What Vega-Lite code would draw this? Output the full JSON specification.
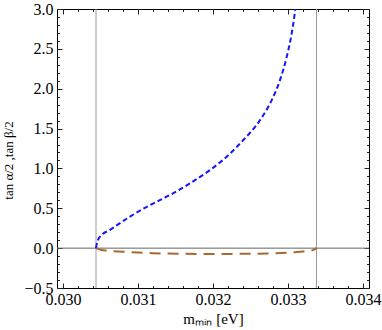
{
  "$schema": "https://vega.github.io/schema/vega-lite/v6.json",
  "autosize": "none",
  "width": 312,
  "height": 279,
  "padding": {"left": 57, "top": 9, "right": 13, "bottom": 42},
  "background": "white",
  "config": {
    "view": {"stroke": "black", "strokeWidth": 1},
    "font": "Liberation Serif",
    "axis": {
      "domain": false,
      "grid": false,
      "tickColor": "#222",
      "tickWidth": 1,
      "labelFont": "Liberation Serif",
      "labelFontSize": 16,
      "labelColor": "black",
      "titleFont": "Liberation Serif",
      "titleFontWeight": "normal",
      "titleColor": "black",
      "labelOverlap": false,
      "labelFlush": false
    }
  },
  "datasets": {
    "blue": [
      {"m": 0.03044, "t": 0},
      {"m": 0.03045, "t": 0.05},
      {"m": 0.03047, "t": 0.11},
      {"m": 0.0305, "t": 0.15},
      {"m": 0.030627, "t": 0.23},
      {"m": 0.030893, "t": 0.395},
      {"m": 0.03116, "t": 0.54},
      {"m": 0.031427, "t": 0.667},
      {"m": 0.031693, "t": 0.813},
      {"m": 0.03196, "t": 0.98},
      {"m": 0.032183, "t": 1.147},
      {"m": 0.032404, "t": 1.356},
      {"m": 0.032627, "t": 1.606},
      {"m": 0.032783, "t": 1.857},
      {"m": 0.032893, "t": 2.107},
      {"m": 0.032983, "t": 2.4},
      {"m": 0.033049, "t": 2.693},
      {"m": 0.033093, "t": 2.964},
      {"m": 0.03313, "t": 3.25}
    ],
    "brown": [
      {"m": 0.03044, "t": 0},
      {"m": 0.0305, "t": -0.02},
      {"m": 0.0306, "t": -0.033},
      {"m": 0.0308, "t": -0.045},
      {"m": 0.031, "t": -0.056},
      {"m": 0.0312, "t": -0.064},
      {"m": 0.0316, "t": -0.071},
      {"m": 0.032, "t": -0.073},
      {"m": 0.0324, "t": -0.071},
      {"m": 0.0328, "t": -0.064},
      {"m": 0.0331, "t": -0.05},
      {"m": 0.0332, "t": -0.042},
      {"m": 0.03333, "t": -0.025},
      {"m": 0.03338, "t": 0}
    ],
    "vlines": [{"m": 0.03044}, {"m": 0.03338}],
    "hline": [{"t": 0}]
  },
  "layer": [
    {
      "data": {"name": "vlines"},
      "mark": {"type": "rule", "color": "#9a9a9a", "strokeWidth": 1},
      "encoding": {
        "x": {
          "field": "m", "type": "quantitative",
          "scale": {"domain": [0.02992, 0.03408], "nice": false, "zero": false},
          "axis": {
            "orient": "bottom",
            "title": "mₘᵢₙ [eV]",
            "titleFont": "Liberation Serif",
            "titleFontSize": 15,
            "titleX": 156,
            "titleY": 30,
            "titleAlign": "center",
            "titleBaseline": "middle",
            "labelFont": "Liberation Serif",
            "labelFontSize": 16,
            "values": [0.03, 0.0302, 0.0304, 0.0306, 0.0308, 0.031, 0.0312, 0.0314, 0.0316, 0.0318, 0.032, 0.0322, 0.0324, 0.0326, 0.0328, 0.033, 0.0332, 0.0334, 0.0336, 0.0338, 0.034],
            "labelExpr": "abs(datum.value*1000 - round(datum.value*1000)) < 1e-6 ? format(datum.value, '.3f') : ''",
            "tickSize": {"condition": {"test": "abs(datum.value*1000 - round(datum.value*1000)) < 1e-6", "value": -5}, "value": -2.5},
            "labelPadding": 8
          }
        }
      }
    },
    {
      "data": {"name": "hline"},
      "mark": {"type": "rule", "color": "#666666", "strokeWidth": 1},
      "encoding": {
        "y": {
          "field": "t", "type": "quantitative",
          "scale": {"domain": [-0.5, 3.0], "nice": false, "zero": false},
          "axis": {
            "orient": "left",
            "title": "tan α/2 ,tan β/2",
            "titleFont": "Liberation Serif",
            "titleFontSize": 13,
            "titleX": -49,
            "titleY": 151,
            "titleAngle": -90,
            "titleAlign": "center",
            "titleBaseline": "middle",
            "labelFont": "Liberation Serif",
            "labelFontSize": 16,
            "values": [-0.5, -0.4, -0.3, -0.2, -0.1, 0, 0.1, 0.2, 0.3, 0.4, 0.5, 0.6, 0.7, 0.8, 0.9, 1.0, 1.1, 1.2, 1.3, 1.4, 1.5, 1.6, 1.7, 1.8, 1.9, 2.0, 2.1, 2.2, 2.3, 2.4, 2.5, 2.6, 2.7, 2.8, 2.9, 3.0],
            "labelExpr": "abs(datum.value*2 - round(datum.value*2)) < 1e-6 ? format(datum.value, '.1f') : ''",
            "tickSize": {"condition": {"test": "abs(datum.value*2 - round(datum.value*2)) < 1e-6", "value": -5}, "value": -2.5},
            "labelPadding": 9
          }
        }
      }
    },
    {
      "data": {"name": "brown"},
      "mark": {"type": "line", "color": "#a66a30", "strokeWidth": 2, "strokeDash": [11, 7], "interpolate": "monotone", "clip": true},
      "encoding": {
        "x": {
          "field": "m", "type": "quantitative",
          "axis": {
            "orient": "top",
            "title": null,
            "labels": false,
            "values": [0.03, 0.0302, 0.0304, 0.0306, 0.0308, 0.031, 0.0312, 0.0314, 0.0316, 0.0318, 0.032, 0.0322, 0.0324, 0.0326, 0.0328, 0.033, 0.0332, 0.0334, 0.0336, 0.0338, 0.034],
            "tickSize": {"condition": {"test": "abs(datum.value*1000 - round(datum.value*1000)) < 1e-6", "value": -5}, "value": -2.5}
          }
        },
        "y": {
          "field": "t", "type": "quantitative",
          "axis": {
            "orient": "right",
            "title": null,
            "labels": false,
            "values": [-0.5, -0.4, -0.3, -0.2, -0.1, 0, 0.1, 0.2, 0.3, 0.4, 0.5, 0.6, 0.7, 0.8, 0.9, 1.0, 1.1, 1.2, 1.3, 1.4, 1.5, 1.6, 1.7, 1.8, 1.9, 2.0, 2.1, 2.2, 2.3, 2.4, 2.5, 2.6, 2.7, 2.8, 2.9, 3.0],
            "tickSize": {"condition": {"test": "abs(datum.value*2 - round(datum.value*2)) < 1e-6", "value": -5}, "value": -2.5}
          }
        }
      }
    },
    {
      "data": {"name": "blue"},
      "mark": {"type": "line", "color": "#1515ff", "strokeWidth": 2, "strokeDash": [5, 3], "interpolate": "monotone", "clip": true},
      "encoding": {
        "x": {"field": "m", "type": "quantitative", "axis": null},
        "y": {"field": "t", "type": "quantitative", "axis": null}
      }
    }
  ]
}
